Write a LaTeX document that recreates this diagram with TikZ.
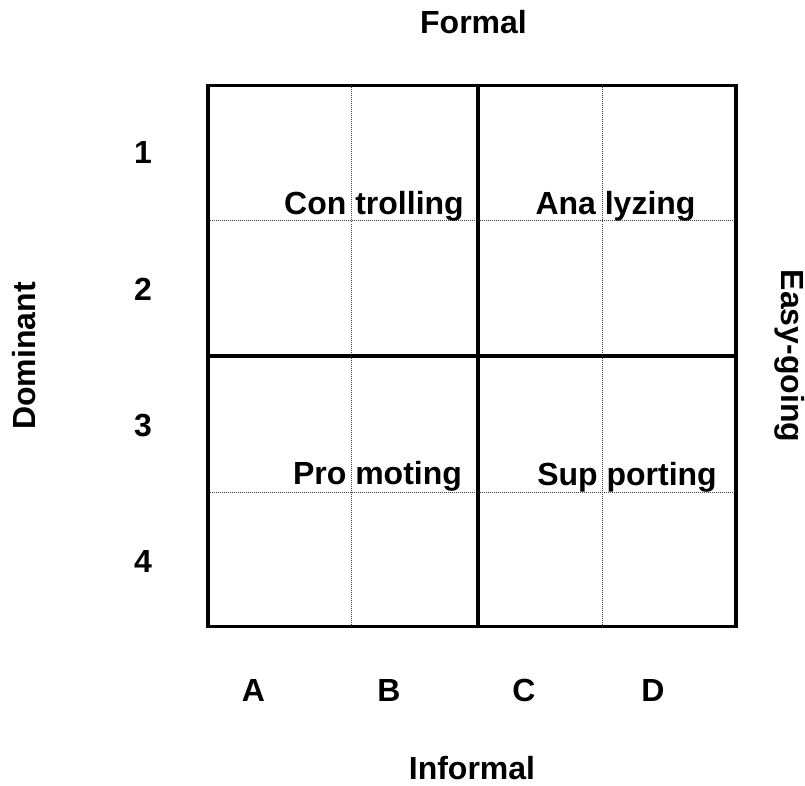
\documentclass[tikz,border=0pt]{standalone}
\usepackage{fontspec}
\setmainfont{Liberation Sans}
\begin{document}
\begin{tikzpicture}[x=1pt,y=-1pt,
  lbl/.style={anchor=base,inner sep=0pt,font=\fontsize{32}{38}\selectfont\bfseries},
  thickline/.style={line width=3.2pt,line cap=rect},
  dotline/.style={line width=1pt,black!75,dash pattern=on 1pt off 1pt}]
\useasboundingbox (0,0) rectangle (805,786);
% dotted grid
\draw[dotline] (351,85.5) -- (351,626.5);
\draw[dotline] (602,85.5) -- (602,626.5);
\draw[dotline] (208,221) -- (736,221);
\draw[dotline] (208,492) -- (736,492);
% solid grid
\draw[thickline] (208,85.5) rectangle (736,626.5);
\draw[thickline] (478,85.5) -- (478,626.5);
\draw[thickline] (208,356) -- (736,356);
% quadrant labels
\node[lbl] (ctrl) at (374,215) {Con trolling};
\node[lbl] (anal) at (615.5,215) {Ana lyzing};
\node[lbl] (prom) at (377.5,484) {Pro moting};
\node[lbl] (supp) at (627,485) {Sup porting};
% axis labels
\node[lbl] (formal) at (473.5,34) {Formal};
\node[lbl] (informal) at (472,779) {Informal};
\node[lbl,rotate=90] (dominant) at (35,356) {Dominant};
\node[lbl,rotate=-90] (easy) at (781,356) {Easy-going};
% row numbers
\node[lbl] (r1) at (143,164) {1};
\node[lbl] (r2) at (143,300) {2};
\node[lbl] (r3) at (143,436) {3};
\node[lbl] (r4) at (143,572) {4};
% column letters
\node[lbl] (cA) at (253.5,701) {A};
\node[lbl] (cB) at (389,701) {B};
\node[lbl] (cC) at (524,701) {C};
\node[lbl] (cD) at (653,701) {D};
\end{tikzpicture}
\end{document}
